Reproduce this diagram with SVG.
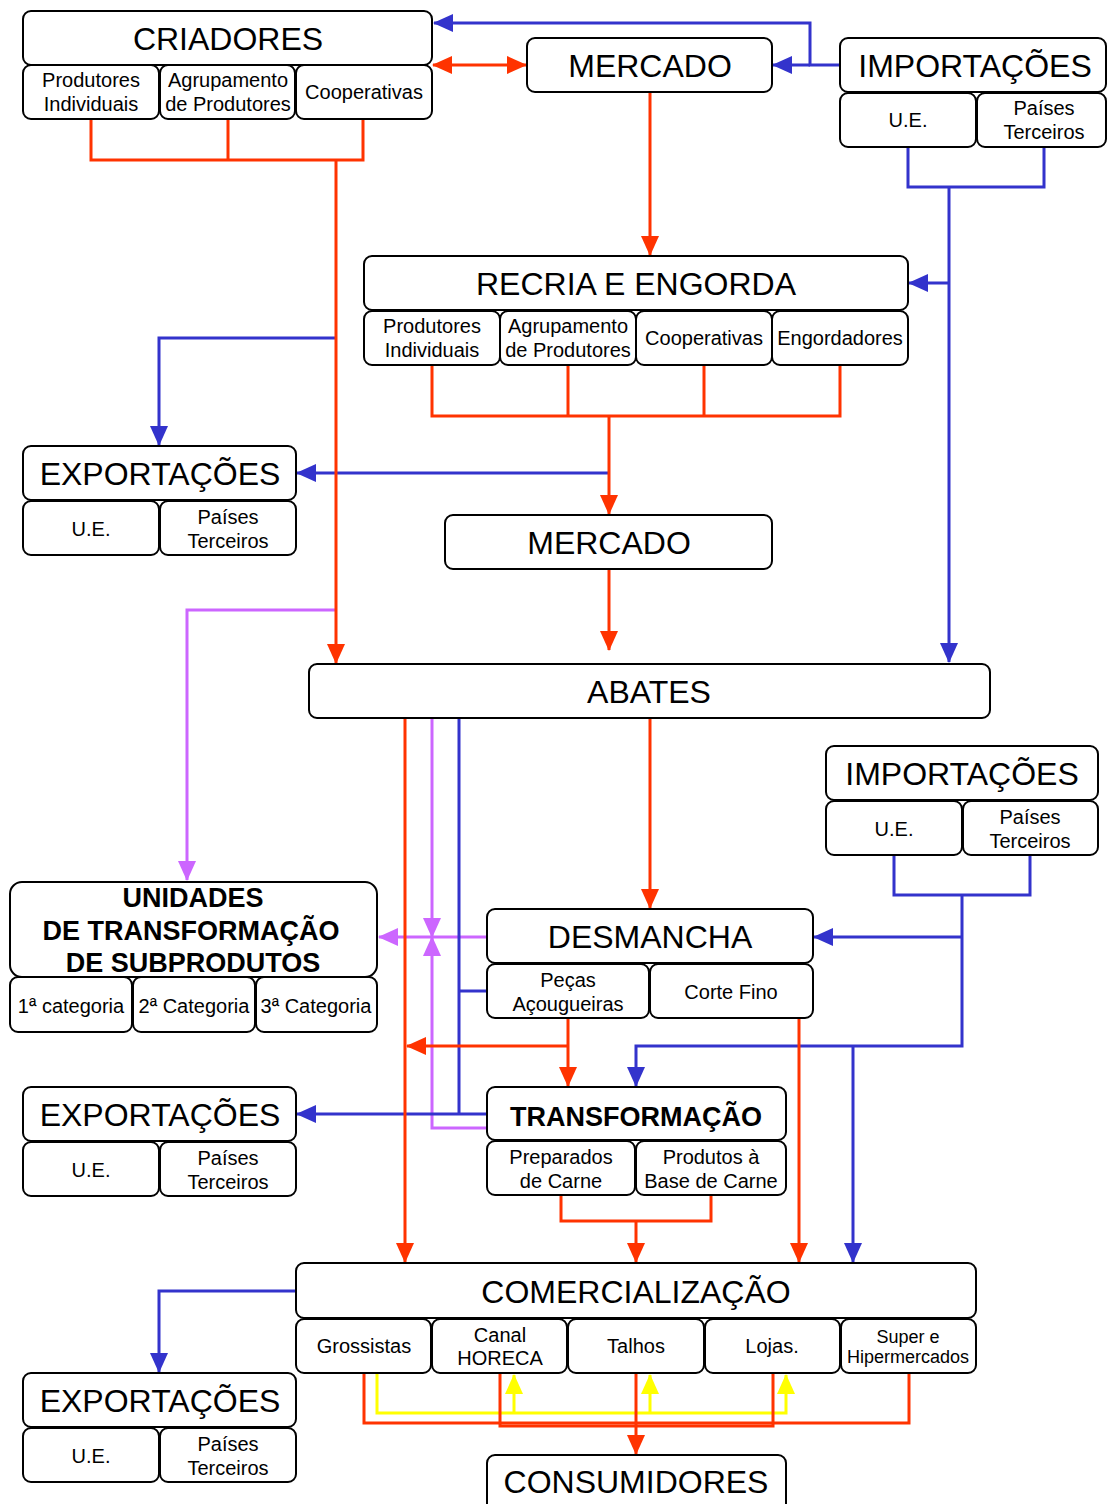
<svg xmlns="http://www.w3.org/2000/svg" width="1107" height="1504" viewBox="0 0 1107 1504">
<defs>
<style>
.b{fill:#fff;stroke:#000;stroke-width:2}
.t{font-family:"Liberation Sans",Arial,sans-serif;fill:#000;text-anchor:middle}
.m{font-size:32px}
.s{font-size:20px}
.x{font-size:18px}
.bd{font-weight:bold;font-size:27px}
.c{fill:none;stroke-width:3}
.r{stroke:#FF3300}
.bl{stroke:#3333CC}
.p{stroke:#CC66FF}
.y{stroke:#FFFF00}
</style>
<marker id="aR" viewBox="0 0 20 18" markerUnits="userSpaceOnUse" markerWidth="20" markerHeight="18" refX="19" refY="9" orient="auto-start-reverse"><path d="M0,0 L20,9 L0,18 z" fill="#FF3300"/></marker>
<marker id="aB" viewBox="0 0 20 18" markerUnits="userSpaceOnUse" markerWidth="20" markerHeight="18" refX="19" refY="9" orient="auto-start-reverse"><path d="M0,0 L20,9 L0,18 z" fill="#3333CC"/></marker>
<marker id="aP" viewBox="0 0 20 18" markerUnits="userSpaceOnUse" markerWidth="20" markerHeight="18" refX="19" refY="9" orient="auto-start-reverse"><path d="M0,0 L20,9 L0,18 z" fill="#CC66FF"/></marker>
<marker id="aY" viewBox="0 0 20 18" markerUnits="userSpaceOnUse" markerWidth="20" markerHeight="18" refX="19" refY="9" orient="auto-start-reverse"><path d="M0,0 L20,9 L0,18 z" fill="#FFFF00"/></marker>
</defs>

<g id="connectors">
<!-- yellow -->
<path class="c y" d="M377,1373 V1413 H786 V1375" marker-end="url(#aY)"/>
<path class="c y" d="M514,1413 V1375" marker-end="url(#aY)"/>
<path class="c y" d="M650,1413 V1375" marker-end="url(#aY)"/>
<!-- purple -->
<path class="c p" d="M336,610 H187 V880" marker-end="url(#aP)"/>
<path class="c p" d="M432,718 V937" marker-end="url(#aP)"/>
<path class="c p" d="M487,1128 H432 V937" marker-end="url(#aP)"/>
<path class="c p" d="M487,937 H379" marker-end="url(#aP)"/>
<!-- blue -->
<path class="c bl" d="M840,65 H810 V23 H434" marker-end="url(#aB)"/>
<path class="c bl" d="M810,65 H773" marker-end="url(#aB)"/>
<path class="c bl" d="M908,147 V187 H1044 V147"/>
<path class="c bl" d="M949,187 V662" marker-end="url(#aB)"/>
<path class="c bl" d="M949,283 H909" marker-end="url(#aB)"/>
<path class="c bl" d="M336,338 H159 V445" marker-end="url(#aB)"/>
<path class="c bl" d="M609,473 H297" marker-end="url(#aB)"/>
<path class="c bl" d="M894,855 V895 H1030 V855"/>
<path class="c bl" d="M962,895 V1046 H636 V1086" marker-end="url(#aB)"/>
<path class="c bl" d="M962,937 H814" marker-end="url(#aB)"/>
<path class="c bl" d="M853,1046 V1262" marker-end="url(#aB)"/>
<path class="c bl" d="M459,718 V1114"/>
<path class="c bl" d="M459,991 H487"/>
<path class="c bl" d="M487,1114 H297" marker-end="url(#aB)"/>
<path class="c bl" d="M296,1291 H159 V1372" marker-end="url(#aB)"/>
<!-- red -->
<path class="c r" d="M91,119 V160 H363 V119"/>
<path class="c r" d="M228,119 V160"/>
<path class="c r" d="M336,160 V663" marker-end="url(#aR)"/>
<path class="c r" d="M433,65 H526" marker-start="url(#aR)" marker-end="url(#aR)"/>
<path class="c r" d="M650,92 V255" marker-end="url(#aR)"/>
<path class="c r" d="M432,365 V416 H840 V365"/>
<path class="c r" d="M568,365 V416"/>
<path class="c r" d="M704,365 V416"/>
<path class="c r" d="M609,416 V514" marker-end="url(#aR)"/>
<path class="c r" d="M609,569 V650" marker-end="url(#aR)"/>
<path class="c r" d="M650,718 V908" marker-end="url(#aR)"/>
<path class="c r" d="M405,718 V1262" marker-end="url(#aR)"/>
<path class="c r" d="M568,1018 V1086" marker-end="url(#aR)"/>
<path class="c r" d="M568,1046 H407" marker-end="url(#aR)"/>
<path class="c r" d="M799,1018 V1262" marker-end="url(#aR)"/>
<path class="c r" d="M561,1195 V1221 H711 V1195"/>
<path class="c r" d="M636,1221 V1262" marker-end="url(#aR)"/>
<path class="c r" d="M364,1373 V1423 H909 V1373"/>
<path class="c r" d="M500,1373 V1426 H773 V1373"/>
<path class="c r" d="M636,1373 V1454" marker-end="url(#aR)"/>
</g>

<g id="criadores">
<rect class="b" x="23" y="11" width="409" height="54" rx="8"/>
<text class="t m" x="228" y="50">CRIADORES</text>
<rect class="b" x="23" y="65" width="136" height="54" rx="8"/>
<text class="t s" x="91" y="87">Produtores</text>
<text class="t s" x="91" y="111">Individuais</text>
<rect class="b" x="160" y="65" width="135" height="54" rx="8"/>
<text class="t s" x="228" y="87">Agrupamento</text>
<text class="t s" x="228" y="111">de Produtores</text>
<rect class="b" x="296" y="65" width="136" height="54" rx="8"/>
<text class="t s" x="364" y="99">Cooperativas</text>
</g>

<g id="mercado1">
<rect class="b" x="527" y="38" width="245" height="54" rx="8"/>
<text class="t m" x="650" y="77">MERCADO</text>
</g>

<g id="importacoes1">
<rect class="b" x="840" y="38" width="266" height="54" rx="8"/>
<text class="t m" x="975" y="77">IMPORTAÇÕES</text>
<rect class="b" x="840" y="93" width="136" height="54" rx="8"/>
<text class="t s" x="908" y="127">U.E.</text>
<rect class="b" x="977" y="93" width="129" height="54" rx="8"/>
<text class="t s" x="1044" y="115">Países</text>
<text class="t s" x="1044" y="139">Terceiros</text>
</g>

<g id="recria">
<rect class="b" x="364" y="256" width="544" height="54" rx="8"/>
<text class="t m" x="636" y="295">RECRIA E ENGORDA</text>
<rect class="b" x="364" y="311" width="136" height="54" rx="8"/>
<text class="t s" x="432" y="333">Produtores</text>
<text class="t s" x="432" y="357">Individuais</text>
<rect class="b" x="500" y="311" width="136" height="54" rx="8"/>
<text class="t s" x="568" y="333">Agrupamento</text>
<text class="t s" x="568" y="357">de Produtores</text>
<rect class="b" x="636" y="311" width="136" height="54" rx="8"/>
<text class="t s" x="704" y="345">Cooperativas</text>
<rect class="b" x="772" y="311" width="136" height="54" rx="8"/>
<text class="t s" x="840" y="345">Engordadores</text>
</g>

<g id="exportacoes1">
<rect class="b" x="23" y="446" width="273" height="54" rx="8"/>
<text class="t m" x="160" y="485">EXPORTAÇÕES</text>
<rect class="b" x="23" y="501" width="136" height="54" rx="8"/>
<text class="t s" x="91" y="536">U.E.</text>
<rect class="b" x="160" y="501" width="136" height="54" rx="8"/>
<text class="t s" x="228" y="524">Países</text>
<text class="t s" x="228" y="548">Terceiros</text>
</g>

<g id="mercado2">
<rect class="b" x="445" y="515" width="327" height="54" rx="8"/>
<text class="t m" x="609" y="554">MERCADO</text>
</g>

<g id="abates">
<rect class="b" x="309" y="664" width="681" height="54" rx="8"/>
<text class="t m" x="649" y="703">ABATES</text>
</g>

<g id="importacoes2">
<rect class="b" x="826" y="746" width="272" height="54" rx="8"/>
<text class="t m" x="962" y="785">IMPORTAÇÕES</text>
<rect class="b" x="826" y="801" width="136" height="54" rx="8"/>
<text class="t s" x="894" y="836">U.E.</text>
<rect class="b" x="963" y="801" width="135" height="54" rx="8"/>
<text class="t s" x="1030" y="824">Países</text>
<text class="t s" x="1030" y="848">Terceiros</text>
</g>

<g id="unidades">
<rect class="b" x="10" y="882" width="367" height="95" rx="12"/>
<text class="t bd" x="193" y="907">UNIDADES</text>
<text class="t bd" x="191" y="940">DE TRANSFORMAÇÃO</text>
<text class="t bd" x="193" y="972">DE SUBPRODUTOS</text>
<rect class="b" x="10" y="977" width="122" height="55" rx="8"/>
<text class="t s" x="71" y="1013">1ª categoria</text>
<rect class="b" x="133" y="977" width="122" height="55" rx="8"/>
<text class="t s" x="194" y="1013">2ª Categoria</text>
<rect class="b" x="256" y="977" width="121" height="55" rx="8"/>
<text class="t s" x="316" y="1013">3ª Categoria</text>
</g>

<g id="desmancha">
<rect class="b" x="487" y="909" width="326" height="54" rx="8"/>
<text class="t m" x="650" y="948">DESMANCHA</text>
<rect class="b" x="487" y="964" width="162" height="54" rx="8"/>
<text class="t s" x="568" y="987">Peças</text>
<text class="t s" x="568" y="1011">Açougueiras</text>
<rect class="b" x="650" y="964" width="163" height="54" rx="8"/>
<text class="t s" x="731" y="999">Corte Fino</text>
</g>

<g id="transformacao">
<rect class="b" x="487" y="1087" width="299" height="53" rx="8"/>
<text class="t bd" x="636" y="1126">TRANSFORMAÇÃO</text>
<rect class="b" x="487" y="1141" width="148" height="54" rx="8"/>
<text class="t s" x="561" y="1164">Preparados</text>
<text class="t s" x="561" y="1188">de Carne</text>
<rect class="b" x="636" y="1141" width="150" height="54" rx="8"/>
<text class="t s" x="711" y="1164">Produtos à</text>
<text class="t s" x="711" y="1188">Base de Carne</text>
</g>

<g id="exportacoes2">
<rect class="b" x="23" y="1087" width="273" height="54" rx="8"/>
<text class="t m" x="160" y="1126">EXPORTAÇÕES</text>
<rect class="b" x="23" y="1142" width="136" height="54" rx="8"/>
<text class="t s" x="91" y="1177">U.E.</text>
<rect class="b" x="160" y="1142" width="136" height="54" rx="8"/>
<text class="t s" x="228" y="1165">Países</text>
<text class="t s" x="228" y="1189">Terceiros</text>
</g>

<g id="comercializacao">
<rect class="b" x="296" y="1263" width="680" height="55" rx="8"/>
<text class="t m" x="636" y="1303">COMERCIALIZAÇÃO</text>
<rect class="b" x="296" y="1319" width="135" height="54" rx="8"/>
<text class="t s" x="364" y="1353">Grossistas</text>
<rect class="b" x="432" y="1319" width="135" height="54" rx="8"/>
<text class="t s" x="500" y="1342">Canal</text>
<text class="t s" x="500" y="1365">HORECA</text>
<rect class="b" x="568" y="1319" width="136" height="54" rx="8"/>
<text class="t s" x="636" y="1353">Talhos</text>
<rect class="b" x="705" y="1319" width="135" height="54" rx="8"/>
<text class="t s" x="772" y="1353">Lojas.</text>
<rect class="b" x="841" y="1319" width="135" height="54" rx="8"/>
<text class="t x" x="908" y="1343">Super e</text>
<text class="t x" x="908" y="1363">Hipermercados</text>
</g>

<g id="exportacoes3">
<rect class="b" x="23" y="1373" width="273" height="54" rx="8"/>
<text class="t m" x="160" y="1412">EXPORTAÇÕES</text>
<rect class="b" x="23" y="1428" width="136" height="54" rx="8"/>
<text class="t s" x="91" y="1463">U.E.</text>
<rect class="b" x="160" y="1428" width="136" height="54" rx="8"/>
<text class="t s" x="228" y="1451">Países</text>
<text class="t s" x="228" y="1475">Terceiros</text>
</g>

<g id="consumidores">
<rect class="b" x="487" y="1455" width="299" height="60" rx="8"/>
<text class="t m" x="636" y="1493">CONSUMIDORES</text>
</g>
</svg>
